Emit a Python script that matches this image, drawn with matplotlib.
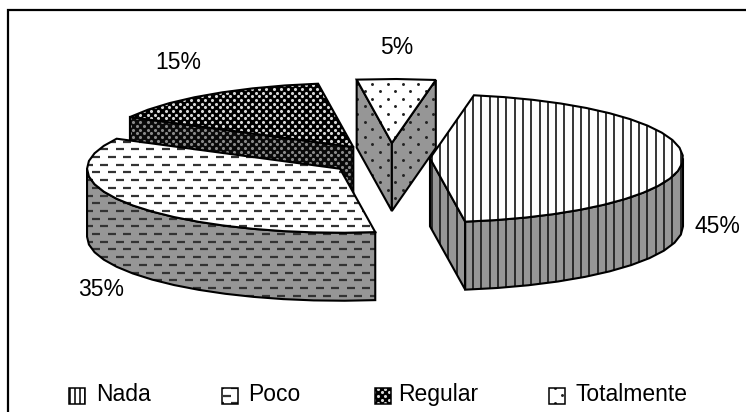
import numpy as np
import matplotlib
matplotlib.use('Agg')
import matplotlib.pyplot as plt
from matplotlib.patches import Polygon
from matplotlib.collections import LineCollection

categories = ['Nada', 'Poco', 'Regular', 'Totalmente']
shares = [45, 35, 15, 5]
share_labels = ['45%', '35%', '15%', '5%']

plt.rcParams['font.family'] = ['Liberation Sans', 'DejaVu Sans']

W, H = 746, 412
fig = plt.figure(figsize=(W / 100, H / 100), dpi=100)
ax = fig.add_axes([0, 0, 1, 1])
ax.set_xlim(0, W)
ax.set_ylim(H, 0)
ax.axis('off')

# projected pie geometry, in pixels
PIE_X, PIE_Y = 380, 158
RX, RY = 253, 64
DEPTH = 68
EXPLODE_X, EXPLODE_Y = 50, 17
START = 10
WALL = '#969696'
ARC_STEP = 7

patterns = ['vlines', 'dashes', 'weave', 'dots']
nudges = [(0, 0), (1, 1), (2, 3), (11, 2)]
label_xy = [(717, 233), (101, 296), (178, 69), (397, 54)]
legend_x = [69, 222, 375, 549]
text_x = [96, 248, 398, 575]


def rim(cx, cy, t):
    t = np.radians(t)
    return np.column_stack([cx + RX * np.sin(t), cy - RY * np.cos(t)])


def arc_angles(t0, t1):
    n = max(int(abs(t1 - t0) / ARC_STEP), 1)
    return np.linspace(t0, t1, n + 1)


def add_pattern(patch, xy, kind, wall, small=False):
    x0, y0 = xy.min(axis=0)
    x1, y1 = xy.max(axis=0)
    k = 0.6 if small else 1.0
    if kind == 'vlines':
        xs = np.arange(np.floor(x0 / (8.3 * k)), x1 / (8.3 * k) + 1) * 8.3 * k
        art = LineCollection([[(x, y0), (x, y1)] for x in xs], colors='#1c1c1c', linewidths=1.25)
        ax.add_collection(art)
    elif kind == 'dashes':
        segs = []
        for r in np.arange(np.floor(y0 / 7.7), y1 / 7.7 + 1):
            off = 7.7 * (r % 2)
            for x in np.arange(np.floor(x0 / 15.4) - 1, x1 / 15.4 + 1) * 15.4 + off:
                segs.append([(x, r * 7.7 + 3), (x + 8, r * 7.7 + 3)])
        art = LineCollection(segs, colors='#333333', linewidths=1.6)
        ax.add_collection(art)
    else:
        if kind == 'weave':
            px, py, size, color = 7.2, 3.7, 5.0, '#8a8a8a' if wall else '#d8d8d8'
        else:
            px, py, size, color = 15.2, 7.6, 4.5, '#222222'
        pts = []
        for r in np.arange(np.floor(y0 / py), y1 / py + 1):
            off = px / 2 * (r % 2)
            for x in np.arange(np.floor(x0 / px) - 1, x1 / px + 1) * px + off:
                pts.append((x, r * py))
        pts = np.array(pts)
        art = ax.scatter(pts[:, 0], pts[:, 1], s=size, c=color, marker='o', linewidths=0)
    art.set_clip_path(patch)
    art.set_zorder(patch.get_zorder() + 0.1)


def add_face(xy, face, kind, wall=False, small=False, lw=1.5):
    global z
    z += 1
    patch = Polygon(xy, closed=True, facecolor=face, edgecolor='none', zorder=z)
    ax.add_patch(patch)
    add_pattern(patch, xy, kind, wall, small)
    z += 1
    ax.add_patch(Polygon(xy, closed=True, fill=False, edgecolor='black', linewidth=lw, zorder=z))


def face_visible(t, inner):
    d = np.radians(t)
    m = np.radians(inner)
    return np.cos(m) - np.sin(m) * np.cos(d) / np.sin(d) > 0


z = 2
total = sum(shares)
spans = np.cumsum([0] + shares) * 360 / total + START
slices = []
for i in range(len(shares)):
    mid = np.radians((spans[i] + spans[i + 1]) / 2)
    cx = PIE_X + EXPLODE_X * np.sin(mid) + nudges[i][0]
    cy = PIE_Y - EXPLODE_Y * np.cos(mid) + nudges[i][1]
    slices.append((i, spans[i], spans[i + 1], cx, cy))

# back slices first so the nearer ones cover them
for i, t0, t1, cx, cy in [slices[2], slices[1], slices[3], slices[0]]:
    kind = patterns[i]
    side = '#0a0a0a' if kind == 'weave' else WALL
    top = '#000000' if kind == 'weave' else 'white'
    apex = np.array([[cx, cy]])
    for t, inner in [(t0, t0 + 5), (t1, t1 - 5)]:
        if face_visible(t, inner):
            corner = rim(cx, cy, [t])
            xy = np.vstack([apex, corner, corner + [0, DEPTH], apex + [0, DEPTH]])
            add_face(xy, side, kind, wall=True)
    a, b = max(t0, 90), min(t1, 270)
    if a < b:
        edge = rim(cx, cy, arc_angles(a, b))
        xy = np.vstack([edge, (edge + [0, DEPTH])[::-1]])
        add_face(xy, side, kind, wall=True)
    add_face(np.vstack([apex, rim(cx, cy, arc_angles(t0, t1))]), top, kind)

for (x, y), label in zip(label_xy, share_labels):
    ax.text(x, y, label, ha='center', va='baseline', fontsize=16.5, color='black', zorder=z + 1)

# legend row
for i, name in enumerate(categories):
    x = legend_x[i]
    box = np.array([[x, 388], [x + 16, 388], [x + 16, 404], [x, 404]], dtype=float)
    add_face(box, '#000000' if patterns[i] == 'weave' else 'white', patterns[i], small=True, lw=1.1)
    ax.text(text_x[i], 401, name, ha='left', va='baseline', fontsize=16.5, color='black', zorder=z + 1)

# chart frame
ax.plot([8, 8, W], [H, 10, 10], color='black', linewidth=1.6, solid_joinstyle='miter', zorder=z + 1)

fig.savefig('out.png', dpi=100)
